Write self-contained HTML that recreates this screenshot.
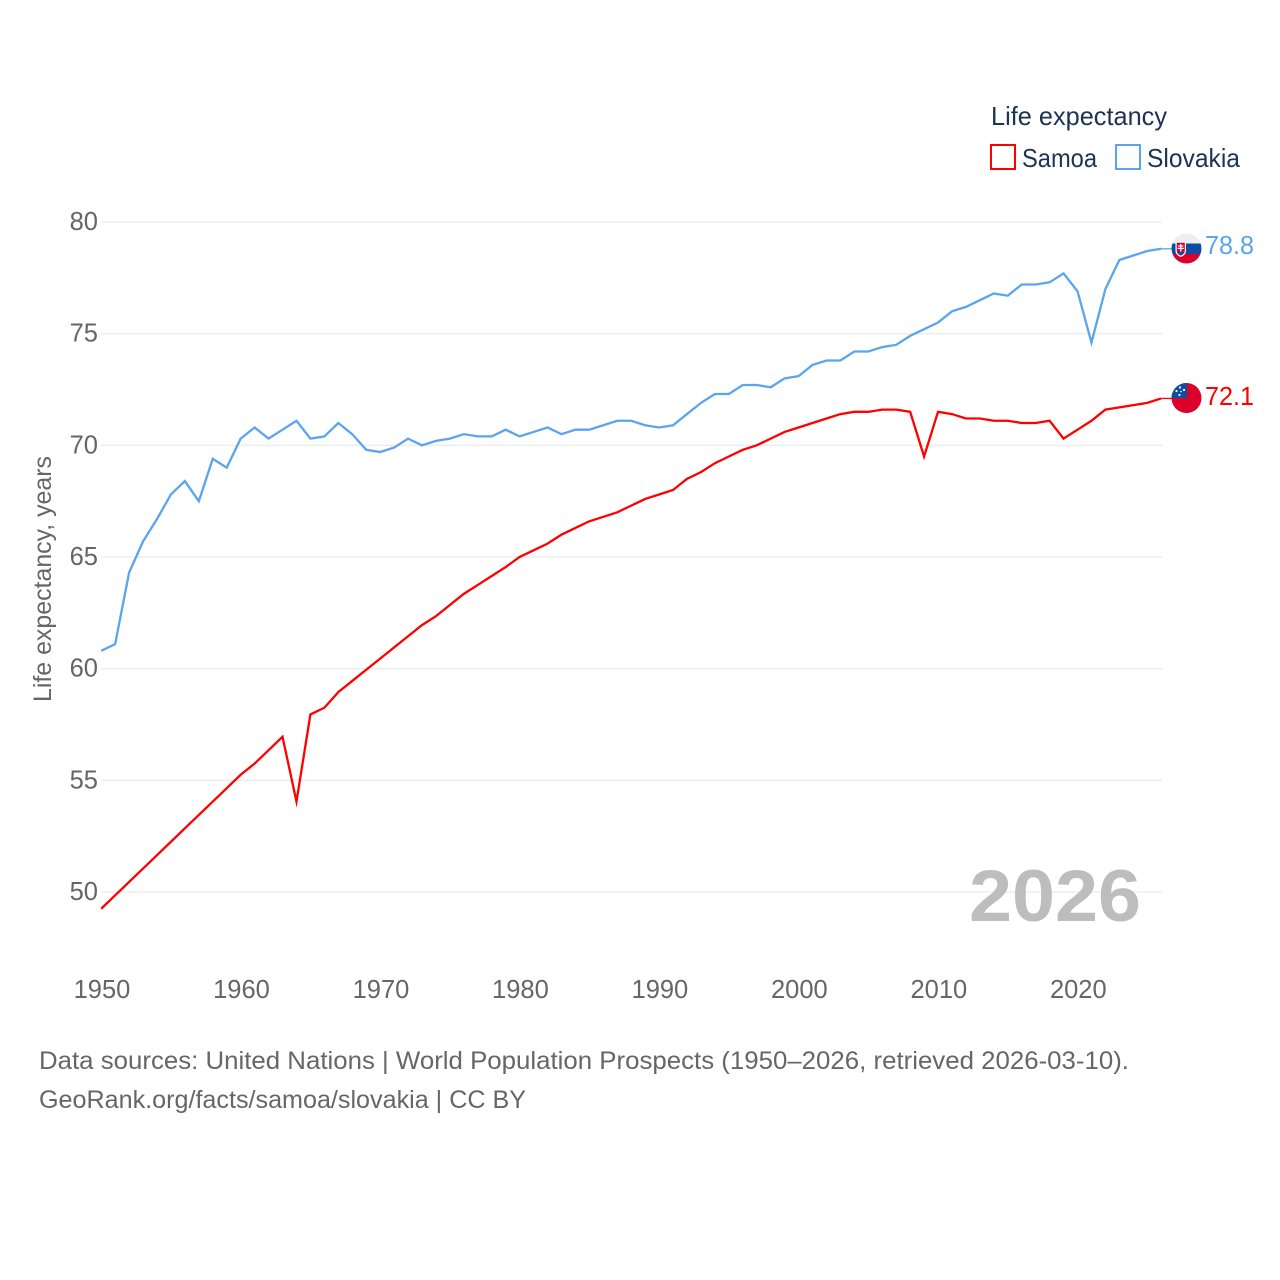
<!DOCTYPE html>
<html lang="en">
<head>
<meta charset="utf-8">
<title>Life expectancy: Samoa and Slovakia</title>
<style>
html,body{margin:0;padding:0;background:#fff;}
svg{display:block;font-family:"Liberation Sans",sans-serif;}
</style>
</head>
<body>
<svg id="chart" xmlns="http://www.w3.org/2000/svg" width="1280" height="1280" viewBox="0 0 1280 1280">
  <rect width="1280" height="1280" fill="#fff"/>
  <g id="grid"></g>
  <g id="yticks"></g>
  <g id="xticks"></g>
  <text transform="translate(51 702) rotate(-90)" font-size="25" fill="#666" textLength="246" lengthAdjust="spacingAndGlyphs">Life expectancy, years</text>
  <text x="969" y="921" font-size="73" font-weight="bold" fill="#bdbdbd" textLength="172" lengthAdjust="spacingAndGlyphs">2026</text>
  <g id="series"></g>

  <g>
    <clipPath id="clip-sk"><circle cx="1186.5" cy="248.5" r="15"/></clipPath>
    <g clip-path="url(#clip-sk)">
      <rect x="1171" y="233" width="31" height="11" fill="#eeeeee"/>
      <rect x="1171" y="243.5" width="31" height="10.5" fill="#0b4ea2"/>
      <rect x="1171" y="254" width="31" height="11" fill="#dc002c"/>
      <path d="M1175.500 241.500h10.500v9q0 4.500-5.250 6.500q-5.250-2-5.250-6.500z" fill="#fff"/>
      <path d="M1176.700 242.700h8.100v7.800q0 3.500-4.050 5.200q-4.050-1.700-4.050-5.200z" fill="#dc002c"/>
      <path d="M1180.100 244h1.300v1.400h1.900v1.200h-1.900v1.200h2.500v1.200h-2.500v2.500h-1.300v-2.500h-2.500v-1.200h2.500v-1.200h-1.900v-1.200h1.900z" fill="#fff"/>
      <path d="M1177.300 253q1.500-2 3.450-1.200q1.950-.8 3.450 1.200q-1.500 1.500-3.450 2.300q-1.950-.8-3.450-2.300z" fill="#0b4ea2"/>
    </g>
  </g>
  <g>
    <clipPath id="clip-ws"><circle cx="1186.500" cy="398" r="15"/></clipPath>
    <g clip-path="url(#clip-ws)">
      <rect x="1171" y="382" width="31" height="32" fill="#dc002c"/>
      <rect x="1171" y="382" width="16" height="16" fill="#0b4ea2"/>
      <circle cx="1180" cy="387.500" r="1.100" fill="#fff"/>
      <circle cx="1184" cy="390" r="1.100" fill="#fff"/>
      <circle cx="1176.500" cy="391" r="1.100" fill="#fff"/>
      <circle cx="1181" cy="391.500" r=".8" fill="#fff"/>
      <circle cx="1179.500" cy="395" r="1.100" fill="#fff"/>
    </g>
  </g>
  <text x="1205" y="254" font-size="25.500" fill="#5ba4ee" textLength="49" lengthAdjust="spacingAndGlyphs">78.8</text>
  <text x="1205" y="405" font-size="25.500" fill="#ff0000" textLength="49" lengthAdjust="spacingAndGlyphs">72.1</text>

  <g>
    <text x="991" y="125" font-size="26" fill="#1b3354" textLength="176" lengthAdjust="spacingAndGlyphs">Life expectancy</text>
    <g>
      <rect x="991" y="145" width="24" height="24" fill="#fff" stroke="#ff0000" stroke-width="2"/>
      <text x="1022" y="167" font-size="26" fill="#1b3354" textLength="75" lengthAdjust="spacingAndGlyphs">Samoa</text>
    </g>
    <g>
      <rect x="1116" y="145" width="24" height="24" fill="#fff" stroke="#5ba4ee" stroke-width="2"/>
      <text x="1147" y="167" font-size="26" fill="#1b3354" textLength="93" lengthAdjust="spacingAndGlyphs">Slovakia</text>
    </g>
  </g>

  <text x="39" y="1069" font-size="25" fill="#666" textLength="1090" lengthAdjust="spacingAndGlyphs">Data sources: United Nations | World Population Prospects (1950–2026, retrieved 2026-03-10).</text>
  <text x="39" y="1108" font-size="25" fill="#666" textLength="487" lengthAdjust="spacingAndGlyphs">GeoRank.org/facts/samoa/slovakia | CC BY</text>
</svg>
<script>
const years = [1950,1951,1952,1953,1954,1955,1956,1957,1958,1959,1960,1961,1962,1963,1964,1965,1966,1967,1968,1969,1970,1971,1972,1973,1974,1975,1976,1977,1978,1979,1980,1981,1982,1983,1984,1985,1986,1987,1988,1989,1990,1991,1992,1993,1994,1995,1996,1997,1998,1999,2000,2001,2002,2003,2004,2005,2006,2007,2008,2009,2010,2011,2012,2013,2014,2015,2016,2017,2018,2019,2020,2021,2022,2023,2024,2025,2026];
const slovakia = [60.8,61.1,64.3,65.7,66.7,67.8,68.4,67.5,69.4,69.0,70.3,70.8,70.3,70.7,71.1,70.3,70.4,71.0,70.5,69.8,69.7,69.9,70.3,70.0,70.2,70.3,70.5,70.4,70.4,70.7,70.4,70.6,70.8,70.5,70.7,70.7,70.9,71.1,71.1,70.9,70.8,70.9,71.4,71.9,72.3,72.3,72.7,72.7,72.6,73.0,73.1,73.6,73.8,73.8,74.2,74.2,74.4,74.5,74.9,75.2,75.5,76.0,76.2,76.5,76.8,76.7,77.2,77.2,77.3,77.7,76.9,74.6,77.0,78.3,78.5,78.7,78.8];
const samoa = [49.25,49.85,50.45,51.05,51.65,52.25,52.85,53.45,54.05,54.65,55.25,55.75,56.35,56.95,54.05,57.95,58.25,58.95,59.45,59.95,60.45,60.95,61.45,61.95,62.35,62.85,63.35,63.75,64.15,64.55,65.0,65.3,65.6,66.0,66.3,66.6,66.8,67.0,67.3,67.6,67.8,68.0,68.5,68.8,69.2,69.5,69.8,70.0,70.3,70.6,70.8,71.0,71.2,71.4,71.5,71.5,71.6,71.6,71.5,69.5,71.5,71.4,71.2,71.2,71.1,71.1,71.0,71.0,71.1,70.3,70.7,71.1,71.6,71.7,71.8,71.9,72.1];
const yTickLabels = [50,55,60,65,70,75,80];
const xTickLabels = [1950,1960,1970,1980,1990,2000,2010,2020];

const NS = 'http://www.w3.org/2000/svg';
const xScale = function (year) { return 101.2 + (year - 1950) * (1060 / 76); };
const yScale = function (value) { return 222 + (80 - value) * (670 / 30); };

function make(tag, attrs, parent, text) {
  const el = document.createElementNS(NS, tag);
  Object.keys(attrs).forEach(function (k) { el.setAttribute(k, attrs[k]); });
  if (text !== undefined) el.textContent = text;
  parent.appendChild(el);
  return el;
}

const grid = document.getElementById('grid');
const yticks = document.getElementById('yticks');
const xticks = document.getElementById('xticks');
const series = document.getElementById('series');

yTickLabels.forEach(function (v) {
  const line = make('line', { x1: 101, x2: 1162, y1: yScale(v), y2: yScale(v), stroke: '#ececec', 'stroke-width': 1.3 }, grid);
  
  
  const label = make('text', { x: 98, y: yScale(v) + 8, 'text-anchor': 'end', 'font-size': 25.500, fill: '#666' }, yticks, String(v));
  
  
});

xTickLabels.forEach(function (v) {
  const label = make('text', { x: xScale(v) + 0.800, y: 998, 'text-anchor': 'middle', 'font-size': 25.500, fill: '#666' }, xticks, String(v));
  
  
});

function pathFor(values) {
  return values.map(function (v, i) {
    return (i ? 'L' : 'M') + xScale(years[i]).toFixed(2) + ' ' + yScale(v).toFixed(2);
  }).join('');
}

function drawSeries(values, color, name) {
  const lastY = yScale(values[values.length - 1]);
  const connector = make('line', { x1: xScale(years[years.length - 1]), x2: 1172, y1: lastY, y2: lastY, stroke: color, 'stroke-width': 1.300 }, series);
  
  
  const line = make('path', { d: pathFor(values), fill: 'none', stroke: color, 'stroke-width': 2.300, 'stroke-linejoin': 'miter', 'stroke-miterlimit': 6 }, series);
  
  
}

drawSeries(slovakia, '#5ba4ee', 'slovakia');
drawSeries(samoa, '#ff0000', 'samoa');
</script>
</body>
</html>
